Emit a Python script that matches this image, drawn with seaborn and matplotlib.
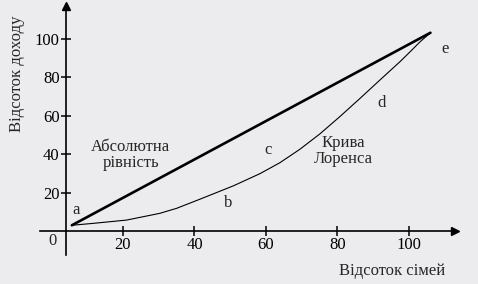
import matplotlib
matplotlib.use("Agg")
import matplotlib.pyplot as plt
import seaborn as sns
import pandas as pd

# Data
families = [5.7, 11.7, 21, 30.3, 35, 41.6, 50.9, 58.3, 63.9, 69.5, 75.1, 80.7, 86.3, 91.9, 97.5, 100.3, 103.1, 106]
income = [3, 4, 5.7, 9.2, 11.8, 16.6, 23.5, 29.8, 35.5, 42.5, 50.5, 59.5, 68.9, 78.5, 88, 93.1, 98.3, 103]
equal_x = [5.7, 106]
equal_y = [3, 103]
x_ticks = [20, 40, 60, 80, 100]
y_ticks = [20, 40, 60, 80, 100]

bg = "#ececee"
sns.set_theme(style="white", rc={"axes.facecolor": bg, "figure.facecolor": bg})
plt.rcParams["font.family"] = ["Liberation Serif", "DejaVu Serif"]

fig = plt.figure(figsize=(4.78, 2.84), dpi=100)
ax = fig.add_axes([0, 0, 1, 1])
ax.set_xlim(-14.4, 119.3)
ax.set_ylim(-27.5, 120)

lor = pd.DataFrame({"x": families, "y": income})
eq = pd.DataFrame({"x": equal_x, "y": equal_y})
sns.lineplot(data=eq, x="x", y="y", ax=ax, color="black", lw=1.9, sort=False)
sns.lineplot(data=lor, x="x", y="y", ax=ax, color="black", lw=0.8, sort=False)

# axes as arrows
for s in ["top", "right"]:
    ax.spines[s].set_visible(False)
ax.spines["left"].set_position(("data", 4))
ax.spines["bottom"].set_position(("data", 0))
ax.spines["left"].set_bounds(-12.5, 116)
ax.spines["bottom"].set_bounds(-3.2, 112)
for s in ["left", "bottom"]:
    ax.spines[s].set_color("black")
    ax.spines[s].set_linewidth(1.2)
ax.plot(4, 117, marker="^", color="black", ms=6, clip_on=False)
ax.plot(113, 0, marker=">", color="black", ms=6, clip_on=False)

ax.set_xticks(x_ticks)
ax.set_yticks(y_ticks)
ax.set_xticklabels([str(v) for v in x_ticks])
ax.set_yticklabels([str(v) for v in y_ticks])
ax.tick_params(axis="both", direction="inout", length=7, width=1.1, color="black",
               labelsize=12, labelcolor="black", bottom=True, left=True)
ax.tick_params(axis="x", pad=1)
ax.tick_params(axis="y", pad=1)
ax.set_xlabel("")
ax.set_ylabel("")

fs = 12
ax.text(0.4, -5.2, "0", ha="center", va="center", fontsize=fs)
ax.text(95.2, -20.8, "Відсоток сімей", ha="center", va="center", fontsize=fs)
ax.text(-9.65, 81.5, "Відсоток доходу", ha="center", va="center", rotation=90, fontsize=fs)
ax.text(22.2, 39.5, "Абсолютна\nрівність", ha="center", va="center", fontsize=fs, linespacing=1.0)
ax.text(81.5, 41.6, "Крива\nЛоренса", ha="center", va="center", fontsize=fs, linespacing=1.0)
for lbl, xx, yy in [("a", 6.85, 10.9), ("b", 49.4, 14.5), ("c", 60.6, 42), ("d", 92.4, 66.5), ("e", 110, 94.5)]:
    ax.text(xx, yy, lbl, ha="center", va="center", fontsize=fs)

fig.savefig("out.png", dpi=100, facecolor=bg)
